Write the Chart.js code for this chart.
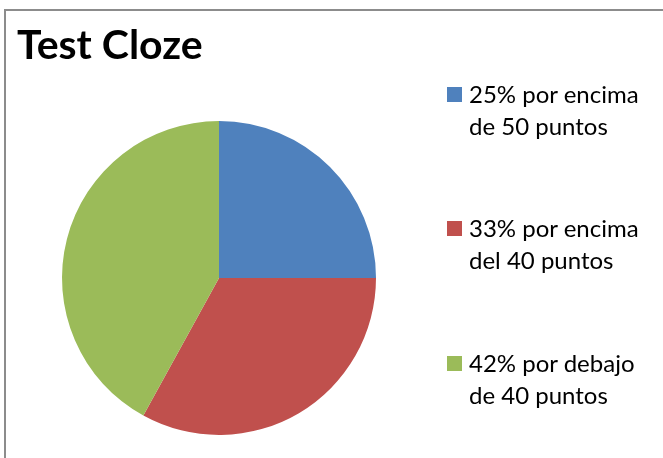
<!DOCTYPE html>
<html>
<head>
<meta charset="utf-8">
<script src="https://cdn.jsdelivr.net/npm/chart.js@4/dist/chart.umd.min.js"></script>
<style>
  html, body { margin: 0; padding: 0; background: #fff; }
  #wrap { position: relative; width: 663px; height: 458px; overflow: hidden; font-family: Lato, "Open Sans", sans-serif; }
  #frame { position: absolute; left: 4px; top: 9px; width: 700px; height: 500px;
           border-left: 2px solid #8c8c8c; border-top: 2px solid #8c8c8c; }
  #title { position: absolute; left: 17px; top: 23px; font-size: 41px; font-weight: bold; line-height: 41px; color: #000; }
  canvas { position: absolute; left: 0; top: 0; }
  .item { position: absolute; left: 447px; font-size: 24px; line-height: 32px; color: #000; }
  .item .box { position: absolute; left: 0; top: 9px; width: 15px; height: 15px; }
  .item .txt { margin-left: 22px; white-space: nowrap; }
</style>
</head>
<body>
<div id="wrap">
  <div id="frame"></div>
  <canvas id="pie" width="663" height="458"></canvas>
  <div id="title">Test Cloze</div>
  <div id="legend"></div>
</div>
<script>
  var chartTitle = 'Test Cloze';
  var categories = [
    ['25% por encima', 'de 50 puntos'],
    ['33% por encima', 'del 40 puntos'],
    ['42% por debajo', 'de 40 puntos']
  ];
  var values = [25, 33, 42];
  var colors = ['#4f81bd', '#c0504d', '#9bbb59'];

  (function(){
    var legendTops = [78, 212, 347];
    var legend = document.getElementById('legend');
    categories.forEach(function(lines, i){
      var item = document.createElement('div');
      item.className = 'item';
      item.style.top = legendTops[i] + 'px';
      item.innerHTML = '<span class="box" style="background:' + colors[i] + '"></span>' +
        '<div class="txt">' + lines.join('<br>') + '</div>';
      legend.appendChild(item);
    });

    new Chart(document.getElementById('pie').getContext('2d'), {
      type: 'pie',
      data: {
        labels: categories.map(function(l){ return l.join(' '); }),
        datasets: [{
          data: values,
          backgroundColor: colors,
          borderWidth: 0
        }]
      },
      options: {
        responsive: false,
        animation: false,
        layout: { padding: { left: 62, top: 121, right: 287, bottom: 23 } },
        plugins: {
          legend: { display: false },
          title: { display: false, text: chartTitle },
          tooltip: { enabled: false }
        }
      }
    });
  })();
</script>
</body>
</html>
